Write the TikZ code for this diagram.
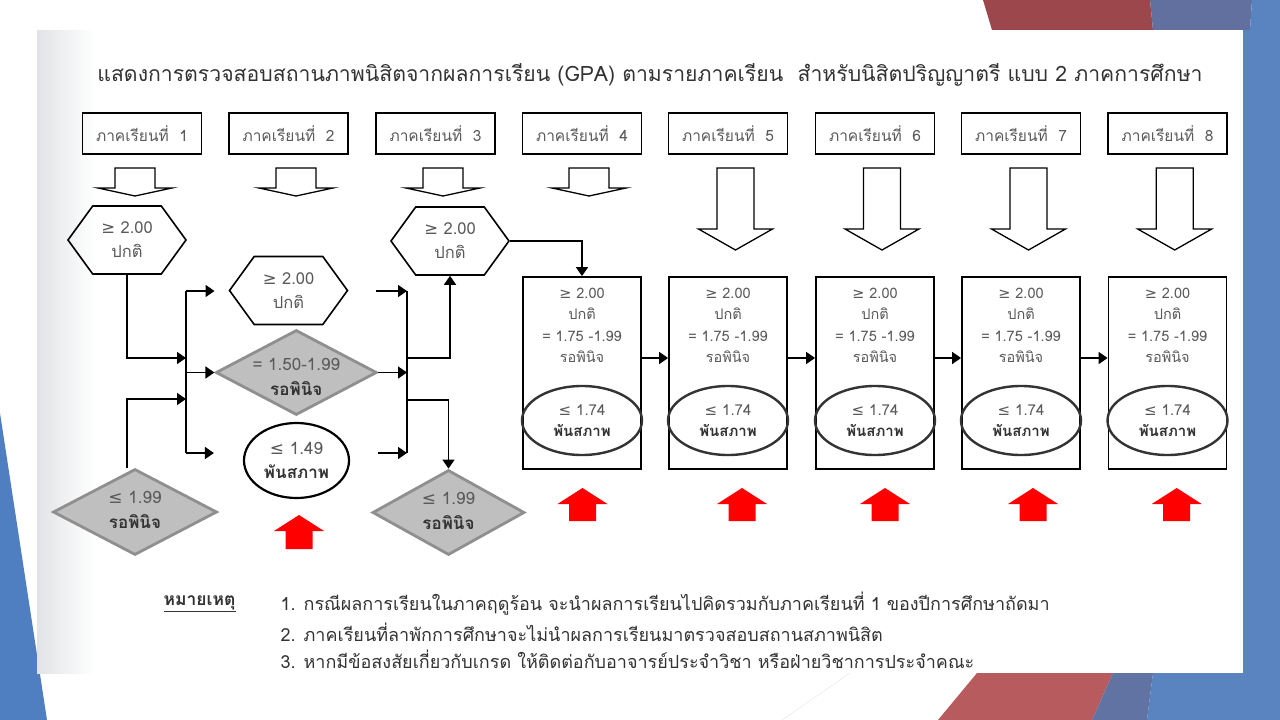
\documentclass[tikz,border=0pt]{standalone}
\usepackage{fontspec}
\setmainfont[Script=Thai]{Loma}
\newfontfamily\symfont{DejaVu Sans}
\usetikzlibrary{shapes.geometric,shapes.symbols,arrows.meta}
\definecolor{txtgray}{HTML}{5A5A5A}
\definecolor{darktxt}{HTML}{333333}
\definecolor{fillgray}{HTML}{BFBFBF}
\definecolor{edgegray}{HTML}{8F8F8F}
\definecolor{ovalgray}{HTML}{333333}
\definecolor{panelgray}{HTML}{E2E3E6}
\definecolor{redtop}{HTML}{9B474B}
\definecolor{redlow}{HTML}{B85B5E}
\definecolor{bluegray}{HTML}{61709E}
\definecolor{bluestrip}{HTML}{5A84C0}
\definecolor{blueleft}{HTML}{4F7FC0}
\tikzset{
  semester/.style={draw, line width=1.6pt, minimum width=119pt, minimum height=41pt, inner sep=0pt,
    font=\fontsize{15.5}{17}\selectfont, text=txtgray},
  hexa/.style={signal, signal to=east and west, signal pointer angle=108, draw, line width=1.6pt,
    minimum width=118pt, minimum height=68pt, inner sep=0pt, align=center,
    font=\fontsize{16.5}{24}\selectfont, text=txtgray},
  gdiamond/.style={diamond, draw=edgegray, fill=fillgray, line width=2.8pt, inner sep=0pt,
    minimum width=161pt, minimum height=85pt},
  diatext/.style={align=center, font=\fontsize{17}{25}\selectfont, text=txtgray},
  ring/.style={ellipse, draw, line width=2.2pt, minimum width=105pt, minimum height=75pt, inner sep=0pt,
    align=center, font=\fontsize{17}{24}\selectfont, text=txtgray},
  tallbox/.style={draw, line width=1.8pt, minimum width=118pt, minimum height=192pt, inner sep=0pt},
  boxtext/.style={align=center, font=\fontsize{14.5}{21.5}\selectfont, text=txtgray},
  oval/.style={ellipse, draw=ovalgray, line width=2.4pt, minimum width=120pt, minimum height=69pt,
    inner sep=0pt, align=center, font=\fontsize{15}{21.5}\selectfont, text=txtgray},
  link/.style={line width=1.6pt, -{Triangle[length=9pt,width=12pt]}},
  bus/.style={line width=1.6pt},
  hollow/.style={draw, line width=1.3pt, fill=white, line join=miter},
  notetext/.style={anchor=west, font=\fontsize{18}{20}\selectfont, text=darktxt}
}
\begin{document}
\begin{tikzpicture}[x=1pt,y=-1pt]
\useasboundingbox (0,0) rectangle (1280,720);
% slide background
\fill[white] (0,0) rectangle (1280,720);
\fill[redtop] (983,0) -- (1150,0) -- (1153,30) -- (992,30) -- cycle;
\fill[bluegray] (1150,0) -- (1252,0) -- (1250,30) -- (1153,30) -- cycle;
\fill[bluestrip] (1252,0) -- (1280,0) -- (1280,720) -- (1200,720) -- (1200,30) -- (1250,30) -- cycle;
\fill[redlow] (938,720) -- (977,673) -- (1113,673) -- (1092,720) -- cycle;
\fill[bluestrip] (1147,720) -- (1153,673) -- (1280,673) -- (1280,720) -- cycle;
\fill[bluegray!85!bluestrip] (1092,720) -- (1113,673) -- (1153,673) -- (1147,720) -- cycle;
\fill[blueleft] (0,413) -- (47,720) -- (0,720) -- cycle;
\draw[gray!20] (850,673) -- (782,720);
\fill[white] (37,30) rectangle (1243,673);
\shade[left color=panelgray, right color=white] (37,30) rectangle (95,673);

\node[text=darktxt, font=\fontsize{21.2}{24}\selectfont] (title) at (650,75)
  {แสดงการตรวจสอบสถานภาพนิสิตจากผลการเรียน (GPA) ตามรายภาคเรียน\ \ สำหรับนิสิตปริญญาตรี แบบ 2 ภาคการศึกษา};

% semester headers
\node[semester] (s1) at (142,133.5) {ภาคเรียนที่\ \ 1};
\node[semester] (s2) at (288.5,133.5) {ภาคเรียนที่\ \ 2};
\node[semester] (s3) at (435.5,133.5) {ภาคเรียนที่\ \ 3};
\node[semester] (s4) at (582,133.5) {ภาคเรียนที่\ \ 4};
\node[semester] (s5) at (728,133.5) {ภาคเรียนที่\ \ 5};
\node[semester] (s6) at (875,133.5) {ภาคเรียนที่\ \ 6};
\node[semester] (s7) at (1021,133.5) {ภาคเรียนที่\ \ 7};
\node[semester] (s8) at (1167.5,133.5) {ภาคเรียนที่\ \ 8};

% hollow arrows
\foreach \x in {135,296,443,589}
  \draw[hollow] ({\x-20},168) -- ({\x+20},168) -- ({\x+20},188) -- ({\x+37},188) -- (\x,196)
    -- ({\x-37},188) -- ({\x-20},188) -- cycle;
\foreach \x in {735.5,882,1028.5,1174.7}
  \draw[hollow] ({\x-18.5},168) -- ({\x+18.5},168) -- ({\x+18.5},229) -- ({\x+37},229) -- (\x,250)
    -- ({\x-37},229) -- ({\x-18.5},229) -- cycle;

% semesters 1 to 3
\node[hexa] (h1) at (127,240) {{\symfont ≥} 2.00\\ปกติ};
\node[hexa] (h2) at (288.5,290.5) {{\symfont ≥} 2.00\\ปกติ};
\node[hexa] (h3) at (450,241) {{\symfont ≥} 2.00\\ปกติ};
\node[gdiamond, minimum width=164pt, minimum height=86pt,
  label={[diatext, yshift=2pt]center:{{\symfont ≤} 1.99\\\textbf{\color{darktxt}รอพินิจ}}}] (d1) at (135,512) {};
\node[gdiamond,
  label={[diatext, yshift=-4pt]center:{= 1.50-1.99\\\textbf{\color{darktxt}รอพินิจ}}}] (d2) at (296.3,372.5) {};
\node[gdiamond, minimum width=152pt,
  label={[diatext, yshift=2pt]center:{{\symfont ≤} 1.99\\\textbf{\color{darktxt}รอพินิจ}}}] (d3) at (448.5,512.5) {};
\node[ring] (e2) at (296.5,460.5) {{\symfont ≤} 1.49\\\textbf{\color{darktxt}พันสภาพ}};

\coordinate (m1) at (186,358);
\coordinate (m2) at (186,399);
\coordinate (l1) at (186,291);
\coordinate (l2) at (186,372.5);
\coordinate (l3) at (186,453);
\coordinate (r1) at (407,291);
\coordinate (r2) at (407,372.5);
\coordinate (r3) at (407,453);
\coordinate (r4) at (407,358);
\coordinate (r5) at (407,400);
\draw[link] (h1.south) |- (m1);
\draw[link] ([xshift=-8pt]d1.north) |- (m2);
\draw[bus] (l1) -- (l3);
\draw[link, shorten >=14pt] (l1) -- (l1 -| h2.west);
\draw[link] (l2) -- (d2.west);
\draw[link, shorten >=29pt] (l3) -- (l3 -| e2.west);
\draw[link, shorten <=28pt] (h2.east |- r1) -- (r1);
\draw[link] (d2.east) -- (r2);
\draw[link, shorten <=28pt] (e2.east |- r3) -- (r3);
\draw[bus] (r1) -- (r3);
\draw[link] (r4) -| (h3.south);
\draw[link] (r5) -| (d3.north);

% semesters 4 to 8
\node[tallbox] (b4) at (582,373) {};
\node[tallbox] (b5) at (728,373) {};
\node[tallbox] (b6) at (875,373) {};
\node[tallbox] (b7) at (1021,373) {};
\node[tallbox] (b8) at (1167.5,373) {};
\node[boxtext] (t4) at (582,325.5) {{\symfont ≥} 2.00\\ปกติ\\= 1.75 -1.99\\รอพินิจ};
\node[boxtext] (t5) at (728,325.5) {{\symfont ≥} 2.00\\ปกติ\\= 1.75 -1.99\\รอพินิจ};
\node[boxtext] (t6) at (875,325.5) {{\symfont ≥} 2.00\\ปกติ\\= 1.75 -1.99\\รอพินิจ};
\node[boxtext] (t7) at (1021,325.5) {{\symfont ≥} 2.00\\ปกติ\\= 1.75 -1.99\\รอพินิจ};
\node[boxtext] (t8) at (1167.5,325.5) {{\symfont ≥} 2.00\\ปกติ\\= 1.75 -1.99\\รอพินิจ};
\node[oval] (o4) at (582,420.5) {{\symfont ≤} 1.74\\\textbf{\color{darktxt}พันสภาพ}};
\node[oval] (o5) at (728,420.5) {{\symfont ≤} 1.74\\\textbf{\color{darktxt}พันสภาพ}};
\node[oval] (o6) at (875,420.5) {{\symfont ≤} 1.74\\\textbf{\color{darktxt}พันสภาพ}};
\node[oval] (o7) at (1021,420.5) {{\symfont ≤} 1.74\\\textbf{\color{darktxt}พันสภาพ}};
\node[oval] (o8) at (1167.5,420.5) {{\symfont ≤} 1.74\\\textbf{\color{darktxt}พันสภาพ}};
\draw[link] (h3.east) -| (b4.north);
\draw[link] ([yshift=15pt]b4.east) -- ([yshift=15pt]b5.west);
\draw[link] ([yshift=15pt]b5.east) -- ([yshift=15pt]b6.west);
\draw[link] ([yshift=15pt]b6.east) -- ([yshift=15pt]b7.west);
\draw[link] ([yshift=15pt]b7.east) -- ([yshift=15pt]b8.west);

% red arrows
\fill[red] (285.5,549) -- (285.5,531) -- (274,531) -- (299,515) -- (324,531) -- (312.5,531) -- (312.5,549) -- cycle;
\foreach \x in {582.5,742,885,1033,1176.7}
  \fill[red] ({\x-13.5},521) -- ({\x-13.5},504) -- ({\x-25},504) -- (\x,488) -- ({\x+25},504)
    -- ({\x+13.5},504) -- ({\x+13.5},521) -- cycle;

% notes
\node[anchor=west, font=\fontsize{17.5}{20}\selectfont\bfseries, text=darktxt] (nb) at (160,604) {\underline{หมายเหตุ}};
\node[notetext] (n1) at (277,604) {1. กรณีผลการเรียนในภาคฤดูร้อน จะนำผลการเรียนไปคิดรวมกับภาคเรียนที่ 1 ของปีการศึกษาถัดมา};
\node[notetext] (n2) at (277,632) {2. ภาคเรียนที่ลาพักการศึกษาจะไม่นำผลการเรียนมาตรวจสอบสถานสภาพนิสิต};
\node[notetext] (n3) at (277,659) {3. หากมีข้อสงสัยเกี่ยวกับเกรด ให้ติดต่อกับอาจารย์ประจำวิชา หรือฝ่ายวิชาการประจำคณะ};
\end{tikzpicture}
\end{document}
